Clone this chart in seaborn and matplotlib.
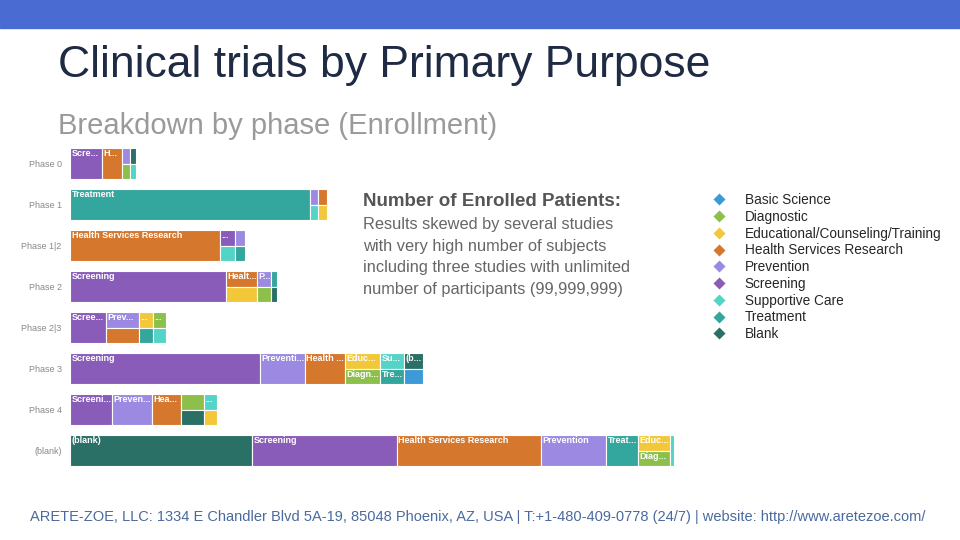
import matplotlib
matplotlib.use("Agg")
import matplotlib.pyplot as plt
import seaborn as sns
from matplotlib.lines import Line2D

sns.set_style("white")
plt.rcParams['font.family'] = ['Liberation Sans', 'DejaVu Sans']

phases = ['Phase 0', 'Phase 1', 'Phase 1|2', 'Phase 2', 'Phase 2|3', 'Phase 3', 'Phase 4', '(blank)']

purposes = ['Basic Science', 'Diagnostic', 'Educational/Counseling/Training',
            'Health Services Research', 'Prevention', 'Screening',
            'Supportive Care', 'Treatment', 'Blank']
colors = {'Basic Science': '#3d9ad8', 'Diagnostic': '#8cc04b',
          'Educational/Counseling/Training': '#f2c83a', 'Health Services Research': '#d6772e',
          'Prevention': '#9c8ae2', 'Screening': '#8a5cba', 'Supportive Care': '#54d4c6',
          'Treatment': '#33a69d', 'Blank': '#2a7067'}

# enrollment per phase (relative units); 'f' = full height, 't'/'b' = top/bottom half sharing a column
segments = {
    'Phase 0': [('Screening', 32, 'Scre...', 'f'), ('Health Services Research', 20, 'H...', 'f'),
                ('Prevention', 8, '', 't'), ('Diagnostic', 8, '', 'b'),
                ('Blank', 6, '', 't'), ('Supportive Care', 6, '', 'b')],
    'Phase 1': [('Treatment', 240, 'Treatment', 'f'), ('Prevention', 8, '', 't'),
                ('Supportive Care', 8, '', 'b'), ('Health Services Research', 9, '', 't'),
                ('Educational/Counseling/Training', 9, '', 'b')],
    'Phase 1|2': [('Health Services Research', 150, 'Health Services Research', 'f'),
                  ('Screening', 15, '...', 't'), ('Supportive Care', 15, '', 'b'),
                  ('Prevention', 10, '', 't'), ('Treatment', 10, '', 'b')],
    'Phase 2': [('Screening', 156, 'Screening', 'f'),
                ('Health Services Research', 31, 'Healt...', 't'),
                ('Educational/Counseling/Training', 31, '', 'b'),
                ('Prevention', 14, 'P...', 't'), ('Diagnostic', 14, '', 'b'),
                ('Treatment', 6, '', 't'), ('Blank', 6, '', 'b')],
    'Phase 2|3': [('Screening', 36, 'Scree...', 'f'), ('Prevention', 33, 'Prev...', 't'),
                  ('Health Services Research', 33, '', 'b'),
                  ('Educational/Counseling/Training', 14, '...', 't'), ('Treatment', 14, '', 'b'),
                  ('Diagnostic', 13, '...', 't'), ('Supportive Care', 13, '', 'b')],
    'Phase 3': [('Screening', 190, 'Screening', 'f'), ('Prevention', 45, 'Preventi...', 'f'),
                ('Health Services Research', 40, 'Health ...', 'f'),
                ('Educational/Counseling/Training', 35, 'Educ...', 't'),
                ('Diagnostic', 35, 'Diagn...', 'b'),
                ('Supportive Care', 24, 'Su...', 't'), ('Treatment', 24, 'Tre...', 'b'),
                ('Blank', 19, '(b...', 't'), ('Basic Science', 19, '', 'b')],
    'Phase 4': [('Screening', 42, 'Screeni...', 'f'), ('Prevention', 40, 'Preven...', 'f'),
                ('Health Services Research', 29, 'Hea...', 'f'), ('Diagnostic', 23, '', 't'),
                ('Blank', 23, '', 'b'), ('Supportive Care', 13, '...', 't'),
                ('Educational/Counseling/Training', 13, '', 'b')],
    '(blank)': [('Blank', 182, '(blank)', 'f'), ('Screening', 145, 'Screening', 'f'),
                ('Health Services Research', 144, 'Health Services Research', 'f'),
                ('Prevention', 65, 'Prevention', 'f'), ('Treatment', 32, 'Treat...', 'f'),
                ('Educational/Counseling/Training', 32, 'Educ...', 't'),
                ('Diagnostic', 32, 'Diag...', 'b'), ('Supportive Care', 4, '', 'f')],
}

fig = plt.figure(figsize=(9.6, 5.4), dpi=100)
fig.patch.set_facecolor('white')
fig.add_artist(plt.Rectangle((0, 1 - 28 / 540), 1, 28 / 540, transform=fig.transFigure,
                             color='#4a6cd2', zorder=0))
fig.text(58 / 960, 1 - 66 / 540, 'Clinical trials by Primary Purpose', fontsize=32,
         color='#1f2a44', va='center')
fig.text(58 / 960, 1 - 126 / 540, 'Breakdown by phase (Enrollment)', fontsize=21,
         color='#9a9a9a', va='center')

ax = fig.add_axes([70 / 960, 1 - 471 / 540, 610 / 960, 328 / 540])
ax.add_patch(plt.Rectangle((0, 0), 1, 1, transform=ax.transAxes, color='white', zorder=0))
H = 0.78
for i, ph in enumerate(phases):
    left = 0
    for purpose, val, lab, pos in segments[ph]:
        if pos == 'f':
            y, h = i, H
        elif pos == 't':
            y, h = i - H / 4, H / 2
        else:
            y, h = i + H / 4, H / 2
        ax.barh(y, val, left=left, height=h, color=colors[purpose],
                edgecolor='white', linewidth=0.8)
        if lab:
            ty = y - h / 2 + 0.15
            ax.text(left + 1.5, ty, lab, color='white', fontsize=6.5, fontweight='bold',
                    va='center', ha='left')
        if pos != 't':
            left += val
ax.set_xlim(0, 610)
ax.set_ylim(7.5, -0.5)
ax.set_yticks(range(len(phases)))
ax.set_yticklabels(phases, fontsize=6.5, color='#888888')
ax.set_xticks([])
ax.tick_params(axis='y', length=0, pad=6)
sns.despine(ax=ax, left=True, bottom=True)

fig.text(363 / 960, 1 - 202 / 540, 'Number of Enrolled Patients:', fontsize=13.5,
         fontweight='bold', color='#555555', va='center')
fig.text(363 / 960, 1 - 217 / 540,
         'Results skewed by several studies\nwith very high number of subjects\n'
         'including three studies with unlimited\nnumber of participants (99,999,999)',
         fontsize=11.8, color='#666666', va='top', linespacing=1.55)

handles = [Line2D([0], [0], marker='D', linestyle='', markersize=7.5,
                  markerfacecolor=colors[p], markeredgecolor='white') for p in purposes]
fig.legend(handles, purposes, loc='upper left', bbox_to_anchor=(693 / 960, 1 - 181 / 540),
           frameon=False, fontsize=9.8, handletextpad=0.9, labelspacing=0.2)

fig.text(30 / 960, 1 - 517 / 540,
         'ARETE-ZOE, LLC: 1334 E Chandler Blvd 5A-19, 85048 Phoenix, AZ, USA | '
         'T:+1-480-409-0778 (24/7) | website: http://www.aretezoe.com/',
         fontsize=10.5, color='#4a6a9e', va='center')

fig.savefig('out.png', dpi=100, facecolor='white')
